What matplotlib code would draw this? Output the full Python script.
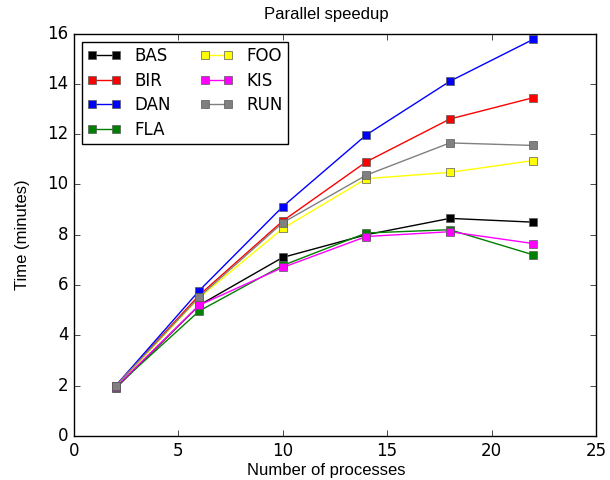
import matplotlib
matplotlib.use("Agg")
import matplotlib.pyplot as plt

plt.style.use("classic")

procs = [2, 6, 10, 14, 18, 22]

bas = [1.9, 5.2, 7.1, 8.0, 8.65, 8.5]
bir = [2.0, 5.6, 8.55, 10.9, 12.6, 13.45]
dan = [2.0, 5.78, 9.12, 11.97, 14.1, 15.77]
fla = [1.95, 4.97, 6.78, 8.07, 8.2, 7.2]
foo = [1.95, 5.5, 8.25, 10.23, 10.48, 10.95]
kis = [1.95, 5.2, 6.7, 7.93, 8.12, 7.65]
run = [2.0, 5.53, 8.48, 10.37, 11.65, 11.55]

names = ["BAS", "BIR", "DAN", "FLA", "FOO", "KIS", "RUN"]
series = [bas, bir, dan, fla, foo, kis, run]
colors = ["k", "r", "b", "g", "yellow", "magenta", "gray"]

fig = plt.figure(figsize=(6.1, 4.8), dpi=100, facecolor="white")
ax = fig.add_axes([0.1213, 0.0917, 0.8557, 0.8385])

for name, vals, c in zip(names, series, colors):
    ax.plot(procs, vals, color=c, marker="s", markersize=5.3,
            markeredgecolor="0.35", markeredgewidth=0.5, label=name)

ax.set_xlim(0, 25)
ax.set_ylim(0, 16)

lab_font = dict(family="Liberation Sans", size=12)
ax.set_title("Parallel speedup", x=0.483, pad=10.5, fontdict=lab_font)
ax.set_xlabel("Number of processes", fontdict=lab_font)
ax.xaxis.set_label_coords(0.483, -0.066)
ax.set_ylabel("Time (minutes)", fontdict=lab_font)
ax.yaxis.set_label_coords(-0.085, 0.5)
ax.tick_params(labelsize=12)
ax.legend(loc="upper left", ncol=2, fontsize=12, numpoints=2,
          labelspacing=0.4, borderpad=0.3, columnspacing=1.75,
          borderaxespad=0.5)

fig.savefig("out.png", dpi=100, facecolor="white")
